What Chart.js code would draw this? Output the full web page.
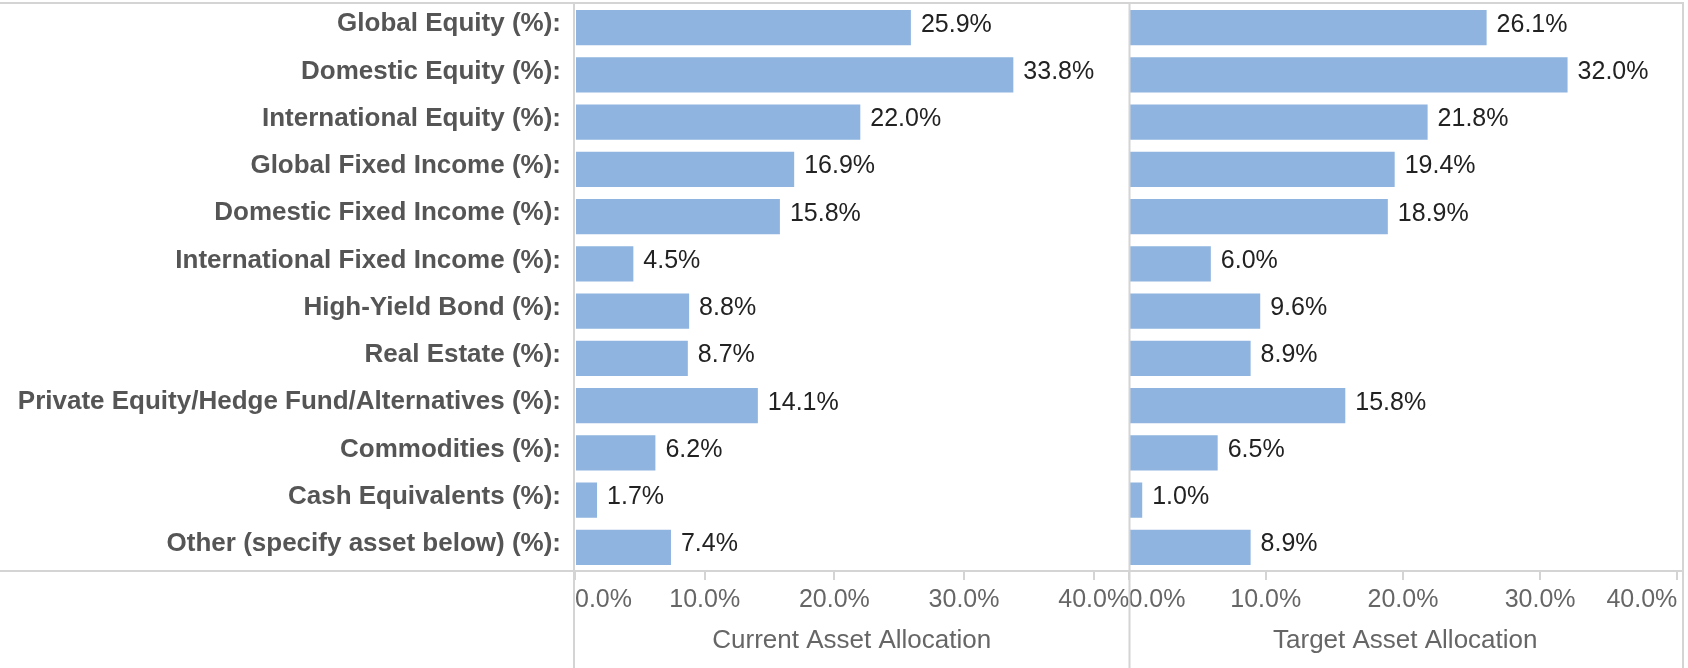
<!DOCTYPE html>
<html>
<head>
<meta charset="utf-8">
<script src="https://cdn.jsdelivr.net/npm/chart.js@4.4.1/dist/chart.umd.min.js"></script>
<style>
  html, body { margin: 0; padding: 0; background: #ffffff; overflow: hidden; }
  #wrap { position: relative; width: 1688px; height: 668px; }
  canvas { display: block; }
</style>
</head>
<body>
<div id="wrap"><canvas id="c" width="1688" height="668" style="width:1688px;height:668px"></canvas></div>
<script>
// ---------------- data ----------------
const categories = [
  'Global Equity (%):',
  'Domestic Equity (%):',
  'International Equity (%):',
  'Global Fixed Income (%):',
  'Domestic Fixed Income (%):',
  'International Fixed Income (%):',
  'High-Yield Bond (%):',
  'Real Estate (%):',
  'Private Equity/Hedge Fund/Alternatives (%):',
  'Commodities (%):',
  'Cash Equivalents (%):',
  'Other (specify asset below) (%):'
];
const currentValues = [25.9, 33.8, 22.0, 16.9, 15.8, 4.5, 8.8, 8.7, 14.1, 6.2, 1.7, 7.4];
const targetValues  = [26.1, 32.0, 21.8, 19.4, 18.9, 6.0, 9.6, 8.9, 15.8, 6.5, 1.0, 8.9];
const tickValues = [0, 10, 20, 30, 40];
const panelTitles = ['Current Asset Allocation', 'Target Asset Allocation'];

// ---------------- style ----------------
const FONT = "'Liberation Sans', Arial, Helvetica, sans-serif";
const BAR = '#8fb4e0';
const LINE = '#d4d4d4';
Chart.defaults.font.family = FONT;

function fmt(v) { return v.toFixed(1) + '%'; }

function makeX(max, title, extraEnd) {
  return {
    type: 'linear',
    position: 'bottom',
    stack: 'panels',
    stackWeight: 1,
    min: 0,
    max: max,
    afterBuildTicks: s => {
      const t = tickValues.map(v => ({ value: v }));
      if (extraEnd) t.push({ value: max });
      s.ticks = t;
    },
    ticks: {
      includeBounds: false,
      align: 'inner',
      autoSkip: false,
      maxRotation: 0,
      minRotation: 0,
      font: { size: 25 },
      color: '#666666',
      padding: 5,
      callback: v => tickValues.includes(v) ? fmt(v) : ''
    },
    grid: {
      drawOnChartArea: false,
      drawTicks: true,
      tickLength: 9,
      tickWidth: 2,
      tickColor: LINE,
      color: LINE,
      lineWidth: 2
    },
    border: { display: false },
    title: {
      display: true,
      text: title,
      font: { size: 26 },
      color: '#666666',
      padding: { top: 0, bottom: 12 }
    },
    afterFit: s => { s.height = 97; s.paddingLeft = 0; s.paddingRight = 0; }
  };
}

const framePlugin = {
  id: 'frame',
  afterDraw(chart) {
    const ctx = chart.ctx;
    const ca = chart.chartArea;
    const x2 = chart.scales.x2;
    const H = chart.height;
    ctx.save();
    ctx.strokeStyle = LINE;
    ctx.lineWidth = 2;
    ctx.beginPath();
    // top border
    ctx.moveTo(0, ca.top - 1); ctx.lineTo(x2.right + 2, ca.top - 1);
    // bottom axis line across full width
    ctx.moveTo(0, ca.bottom); ctx.lineTo(x2.right + 2, ca.bottom);
    // vertical dividers
    ctx.moveTo(ca.left - 1, ca.top - 2); ctx.lineTo(ca.left - 1, H);
    ctx.moveTo(x2.left + 1, ca.top - 2); ctx.lineTo(x2.left + 1, H);
    ctx.moveTo(x2.right + 1, ca.top - 2); ctx.lineTo(x2.right + 1, H);
    ctx.stroke();
    ctx.restore();
  }
};

const valueLabelPlugin = {
  id: 'valueLabels',
  afterDatasetsDraw(chart) {
    const ctx = chart.ctx;
    ctx.save();
    ctx.font = '25px ' + FONT;
    ctx.fillStyle = '#222222';
    ctx.textAlign = 'left';
    ctx.textBaseline = 'middle';
    chart.data.datasets.forEach((ds, di) => {
      const meta = chart.getDatasetMeta(di);
      meta.data.forEach((bar, i) => {
        ctx.fillText(fmt(ds.data[i]), bar.x + 10, bar.y - 3);
      });
    });
    ctx.restore();
  }
};

new Chart(document.getElementById('c').getContext('2d'), {
  type: 'bar',
  data: {
    labels: categories,
    datasets: [
      { label: panelTitles[0], data: currentValues, xAxisID: 'x1', backgroundColor: BAR,
        barPercentage: 0.75, categoryPercentage: 1, grouped: false, borderWidth: 0 },
      { label: panelTitles[1], data: targetValues, xAxisID: 'x2', backgroundColor: BAR,
        barPercentage: 0.75, categoryPercentage: 1, grouped: false, borderWidth: 0 }
    ]
  },
  options: {
    indexAxis: 'y',
    responsive: false,
    animation: false,
    layout: { padding: { top: 4, right: 6, bottom: 0, left: 0 } },
    plugins: { legend: { display: false }, tooltip: { enabled: false } },
    scales: {
      y: {
        type: 'category',
        position: 'left',
        offset: true,
        grid: { display: false, drawTicks: false },
        border: { display: false },
        ticks: {
          autoSkip: false,
          font: { size: 26, weight: 'bold' },
          color: '#555555',
          padding: 14,
          labelOffset: -3.5
        },
        afterFit: s => { s.width = 575; s.paddingTop = 0; s.paddingBottom = 0; }
      },
      x1: makeX(42.68, panelTitles[0], true),
      x2: makeX(40.34, panelTitles[1], false)
    }
  },
  plugins: [valueLabelPlugin, framePlugin]
});
</script>
</body>
</html>
